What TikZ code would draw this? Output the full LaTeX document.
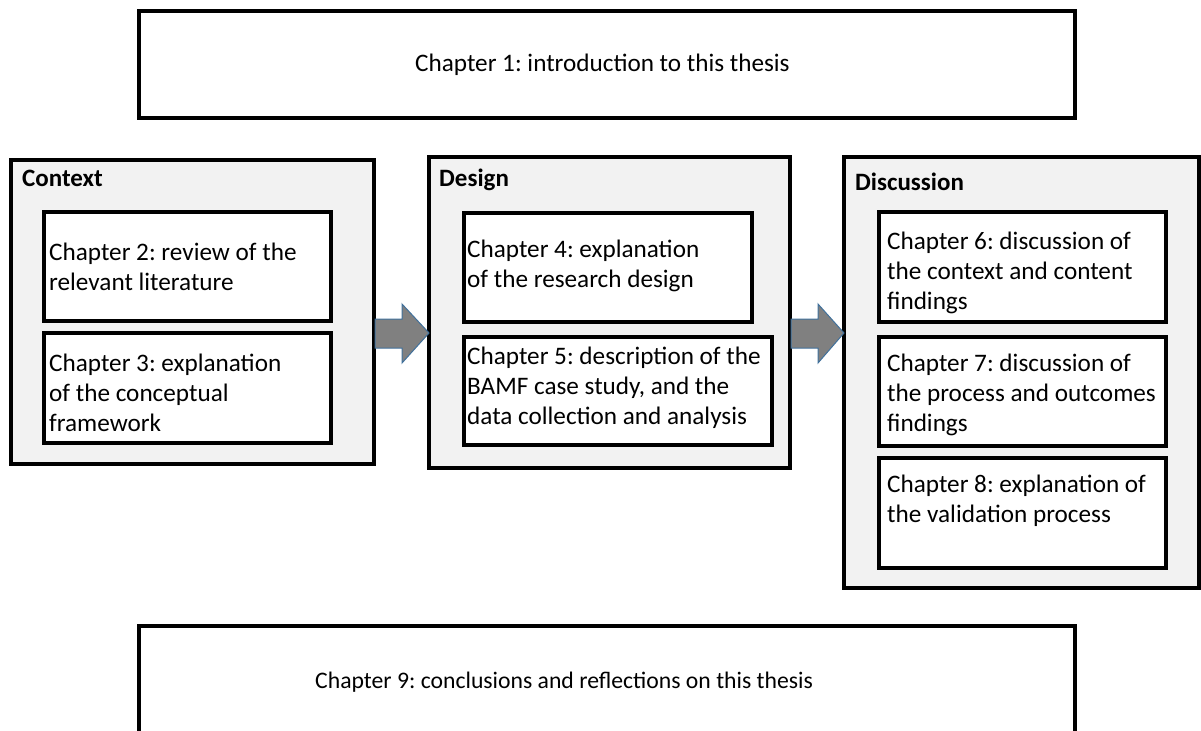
\documentclass[tikz,border=0pt]{standalone}
\usepackage{fontspec}
\setmainfont{Carlito}
\usetikzlibrary{calc}
\definecolor{panelgray}{HTML}{F2F2F2}
\definecolor{arrowgray}{HTML}{808080}
\definecolor{arrowblue}{HTML}{41719C}
\begin{document}
\frenchspacing
\begin{tikzpicture}[x=1bp,y=-1bp,
  chapbox/.style={draw=black,line width=3.2bp,fill=white},
  panel/.style={draw=black,line width=3.2bp,fill=panelgray},
  txt/.style={anchor=west,inner sep=0pt,align=left,font=\fontsize{25.2bp}{30bp}\selectfont},
  paneltitle/.style={anchor=west,inner sep=0pt,font=\fontsize{25bp}{30bp}\selectfont\bfseries},
  blockarrow/.style={fill=arrowgray,draw=arrowblue,line width=1bp,line join=miter}]
\useasboundingbox (0,0) rectangle (1201,731);
% top box
\draw[chapbox] (139,11) rectangle (1075,118);
\node[txt] (ch1) at (415,65) {Chapter 1: introduction to this thesis};
% panels
\draw[panel] (11,160) rectangle (374,464);
\coordinate (context) at (374,333);
\node[paneltitle] (ctxt) at (22,178) {Context};
\draw[panel] (429,157) rectangle (790,468);
\coordinate (designW) at (429,333);
\coordinate (designE) at (790,333);
\node[paneltitle] (dtxt) at (439,180) {Design};
\draw[panel] (844,157) rectangle (1199,588);
\coordinate (discW) at (844,333);
\node[paneltitle] (disctxt) at (855,182) {Discussion};
% inner boxes
\draw[chapbox] (44,212) rectangle (331,321);
\node[txt] (ch2) at (49,267) {Chapter 2: review of the\\relevant literature};
\draw[chapbox] (44,333) rectangle (331,443);
\node[txt] (ch3) at (49,393) {Chapter 3: explanation\\of the conceptual\\framework};
\draw[chapbox] (464,213) rectangle (752,322);
\node[txt] (ch4) at (467,266) {Chapter 4: explanation\\of the research design};
\draw[chapbox] (464,337) rectangle (772,445);
\node[txt] (ch5) at (467,388) {Chapter 5: description of the\\BAMF case study, and the\\data collection and analysis};
\draw[chapbox] (879,212) rectangle (1166,322);
\node[txt] (ch6) at (887,273) {Chapter 6: discussion of\\the context and content\\findings};
\draw[chapbox] (879,337) rectangle (1166,446);
\node[txt] (ch7) at (887,395) {Chapter 7: discussion of\\the process and outcomes\\findings};
\draw[chapbox] (879,458) rectangle (1166,568);
\node[txt] (ch8) at (887,501) {Chapter 8: explanation of\\the validation process};
% block arrows
\draw[blockarrow] ($(context)+(1,-14)$) -- ($(designW)+(-27,-14)$) -- ($(designW)+(-27,-29)$) -- (designW)
  -- ($(designW)+(-27,30)$) -- ($(designW)+(-27,15)$) -- ($(context)+(1,15)$) -- cycle;
\draw[blockarrow] ($(designE)+(1,-14)$) -- ($(discW)+(-26,-14)$) -- ($(discW)+(-26,-29)$) -- (discW)
  -- ($(discW)+(-26,30)$) -- ($(discW)+(-26,15)$) -- ($(designE)+(1,15)$) -- cycle;
% bottom box (cut off at the bottom)
\draw[draw=black,line width=3.2bp] (139,731) -- (139,626) -- (1075,626) -- (1075,731);
\node[txt,font=\fontsize{23.7bp}{28bp}\selectfont] (ch9) at (315,682) {Chapter 9: conclusions and reflections on this thesis};
\end{tikzpicture}
\end{document}
